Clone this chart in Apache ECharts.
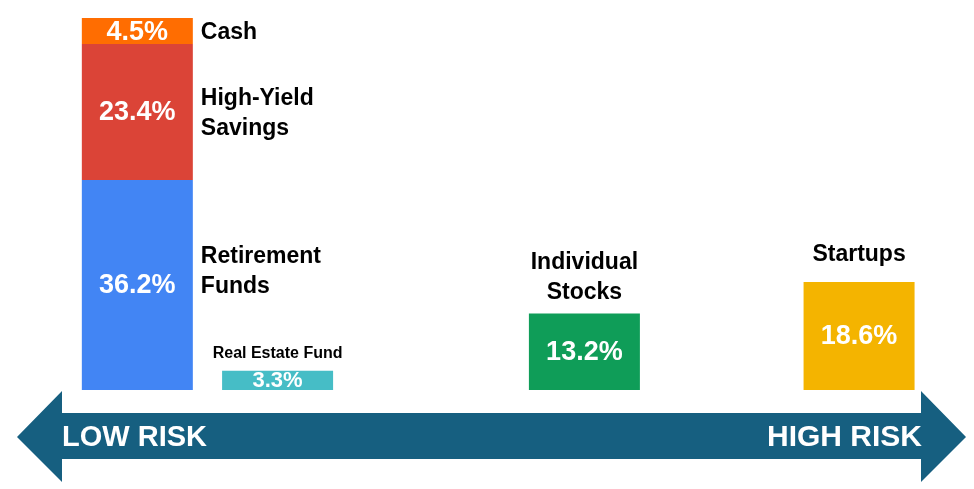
<!DOCTYPE html>
<html>
<head>
<meta charset="utf-8">
<script src="https://cdn.jsdelivr.net/npm/echarts@6/dist/echarts.min.js"></script>
<style>
html,body{margin:0;padding:0;background:#fff;}
#chart{width:974px;height:489px;}
</style>
</head>
<body>
<div id="chart"></div>
<script>
// ---- data ----
const categories = ['Retirement Funds', 'High-Yield Savings', 'Cash', 'Real Estate Fund', 'Individual Stocks', 'Startups'];
const displayNames = ['Retirement\nFunds', 'High-Yield\nSavings', 'Cash', 'Real Estate Fund', 'Individual\nStocks', 'Startups'];
const shares = [36.2, 23.4, 4.5, 3.3, 13.2, 18.6];
// position of each holding along the risk scale (0 = lowest, 100 = highest)
const riskPosition = [14.1, 14.1, 14.1, 28.5, 60.0, 88.2];
const stackedCount = 3; // first three holdings are stacked at the low-risk end

// ---- styles ----
const colors = ['#4285F4', '#DB4437', '#FF6D01', '#46BDC6', '#0F9D58', '#F4B400'];
const FONT = '"Liberation Sans", Arial, sans-serif';
const BAR_W = 111;

// build rows: [risk, base, top, index]
const rows = [];
let cum = 0;
for (let i = 0; i < categories.length; i++) {
  let base = 0;
  if (i < stackedCount) { base = cum; cum += shares[i]; }
  rows.push([riskPosition[i], base, base + shares[i], i]);
}

function renderItem(params, api) {
  const x = api.value(0), y0 = api.value(1), y1 = api.value(2), idx = api.value(3);
  const p0 = api.coord([x, y0]);
  const p1 = api.coord([x, y1]);
  const h = p0[1] - p1[1];
  const small = categories[idx] === 'Real Estate Fund';
  const children = [{
    type: 'rect',
    shape: { x: p0[0] - BAR_W / 2, y: p1[1], width: BAR_W, height: h },
    style: { fill: colors[idx] }
  }, {
    type: 'text',
    x: p0[0], y: p1[1] + h / 2 + 1,
    style: {
      text: shares[idx].toFixed(1) + '%', fill: '#fff',
      font: 'bold ' + (small ? 22 : 27) + 'px ' + FONT,
      align: 'center', verticalAlign: 'middle'
    }
  }];
  let nameEl;
  if (idx < stackedCount) {
    nameEl = {
      type: 'text',
      x: p0[0] + BAR_W / 2 + 8,
      y: p1[1] + h / 2 + (idx === 0 ? -13 : 2),
      style: { text: displayNames[idx], fill: '#000', font: 'bold 23px ' + FONT, lineHeight: 30, align: 'left', verticalAlign: 'middle' }
    };
  } else {
    const gap = small ? 7 : (categories[idx] === 'Startups' ? 12 : 6);
    nameEl = {
      type: 'text',
      x: p0[0], y: p1[1] - gap,
      style: { text: displayNames[idx], fill: '#000', font: 'bold ' + (small ? 16 : 23) + 'px ' + FONT, lineHeight: small ? 20 : 30, align: 'center', verticalAlign: 'bottom' }
    };
  }
  children.push(nameEl);
  return { type: 'group', children: children };
}

const arrowColor = '#165F80';
const chart = echarts.init(document.getElementById('chart'));
chart.setOption({
  animation: false,
  backgroundColor: '#fff',
  grid: { left: 0, right: 0, top: 18, bottom: 99 },
  xAxis: { type: 'value', min: 0, max: 100, show: false },
  yAxis: { type: 'value', min: 0, max: 64.1, show: false },
  series: [{
    type: 'custom', name: 'Portfolio',
    renderItem: renderItem,
    encode: { x: 0, y: [1, 2] },
    data: rows, z: 2
  }],
  graphic: [
    {
      type: 'polygon', z: 0,
      shape: { points: [[17, 437], [62, 391], [62, 413], [921, 413], [921, 391], [966, 437], [921, 482], [921, 459], [62, 459], [62, 482]] },
      style: { fill: arrowColor }
    },
    {
      type: 'text', left: 62, top: 423, z: 1,
      style: { text: 'LOW RISK', fill: '#fff', font: 'bold 29px ' + FONT }
    },
    {
      type: 'text', right: 52, top: 423, z: 1,
      style: { text: 'HIGH RISK', fill: '#fff', font: 'bold 30px ' + FONT }
    }
  ]
});
</script>
</body>
</html>
